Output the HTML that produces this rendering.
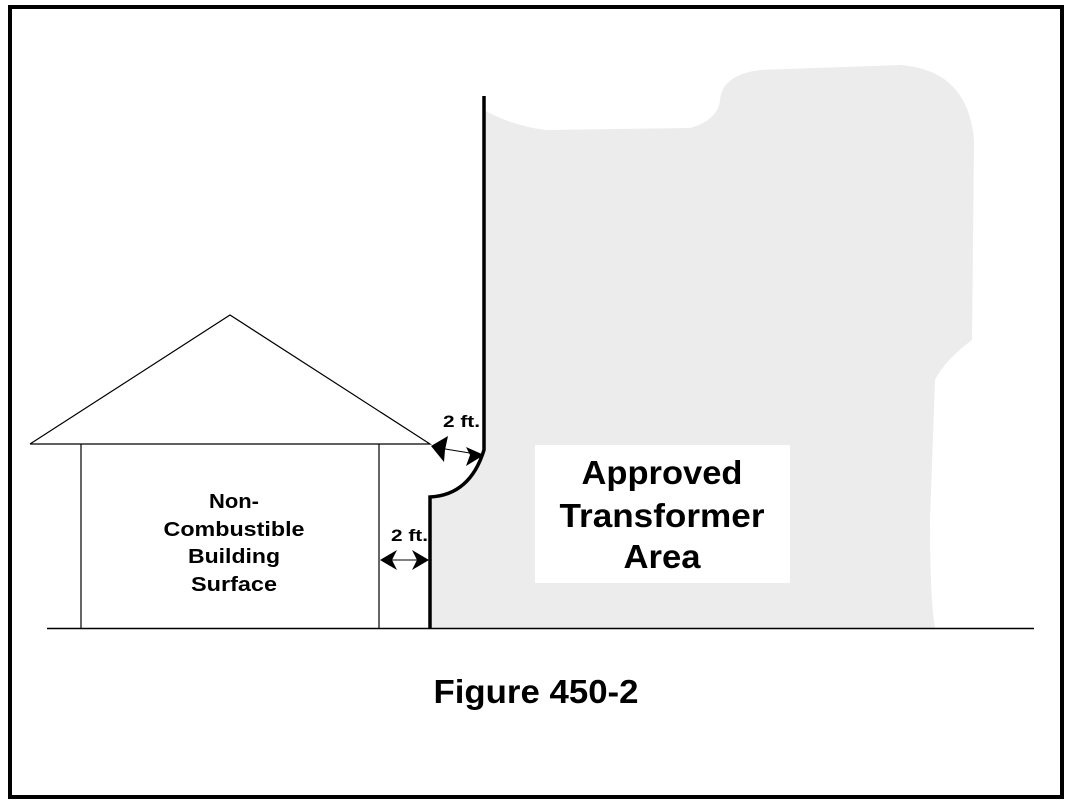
<!DOCTYPE html>
<html><head><style>body{margin:0;background:#fff}svg{display:block}</style></head>
<body>
<svg width="1069" height="805" viewBox="0 0 1069 805" xmlns="http://www.w3.org/2000/svg" font-family="Liberation Sans, Arial, sans-serif" font-weight="bold">
<rect x="0" y="0" width="1069" height="805" fill="#fff"/>
<rect x="10" y="7" width="1052" height="790" fill="none" stroke="#000" stroke-width="4"/>
<path d="M484,110 Q510,125 545,130 L690,128 Q718,120 720,100 Q722,75 760,70 L900,65 Q968,70 974,140 L972,340 Q945,360 935,380 L930,520 Q930,600 935,628 L430,628 L430,497 Q470,495 484,450 Z" fill="#ececec"/>
<rect x="535" y="445" width="255" height="138" fill="#fff"/>
<line x1="47" y1="628.5" x2="1034" y2="628.5" stroke="#000" stroke-width="1.5"/>
<polyline points="30,444 230,315 430,444 30,444" fill="none" stroke="#000" stroke-width="1.2"/>
<line x1="81" y1="444" x2="81" y2="628" stroke="#000" stroke-width="1.2"/>
<line x1="379" y1="444" x2="379" y2="628" stroke="#000" stroke-width="1.2"/>
<path d="M484,96 L484,450 Q470,495 430,497 L430,629" fill="none" stroke="#000" stroke-width="3.5"/>
<line x1="433" y1="447" x2="482" y2="455" stroke="#000" stroke-width="1"/>
<polygon points="431,446 448,436 445,450 444,462" fill="#000"/>
<polygon points="484,455 466,447 470,455 466,466" fill="#000"/>
<line x1="381" y1="560" x2="428" y2="560" stroke="#000" stroke-width="1"/>
<polygon points="380,560 397,550 392,560 397,570" fill="#000"/>
<polygon points="429,560 412,550 417,560 412,570" fill="#000"/>
<text x="443" y="427" font-size="17" textLength="37" lengthAdjust="spacingAndGlyphs">2 ft.</text>
<text x="391" y="541" font-size="17" textLength="37" lengthAdjust="spacingAndGlyphs">2 ft.</text>
<g font-size="20" text-anchor="middle" lengthAdjust="spacingAndGlyphs">
<text x="234" y="508" textLength="50" lengthAdjust="spacingAndGlyphs">Non-</text>
<text x="234" y="536" textLength="141" lengthAdjust="spacingAndGlyphs">Combustible</text>
<text x="234" y="563" textLength="92" lengthAdjust="spacingAndGlyphs">Building</text>
<text x="234" y="591" textLength="86" lengthAdjust="spacingAndGlyphs">Surface</text>
</g>
<g font-size="33" text-anchor="middle">
<text x="662" y="484" textLength="161" lengthAdjust="spacingAndGlyphs">Approved</text>
<text x="662" y="527" textLength="205" lengthAdjust="spacingAndGlyphs">Transformer</text>
<text x="662" y="568" textLength="77" lengthAdjust="spacingAndGlyphs">Area</text>
</g>
<text x="536" y="703" font-size="33" text-anchor="middle" textLength="205" lengthAdjust="spacingAndGlyphs">Figure 450-2</text>
</svg>
</body></html>
